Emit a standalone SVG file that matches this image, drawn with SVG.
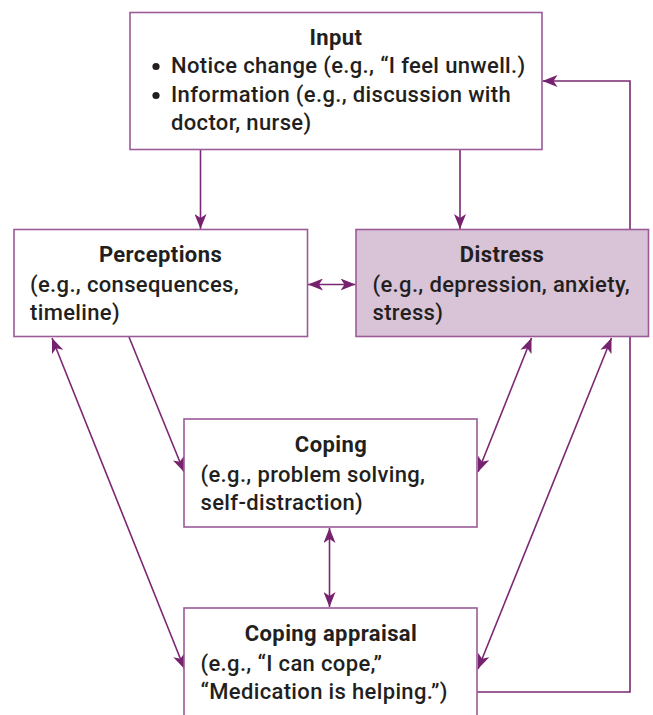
<svg xmlns="http://www.w3.org/2000/svg" width="653" height="715" viewBox="0 0 653 715">
<defs>
<marker id="ah" viewBox="0 0 15 12" refX="15" refY="6" markerWidth="15" markerHeight="12" markerUnits="userSpaceOnUse" orient="auto-start-reverse">
<path d="M0,0 L15,6 L0,12 L4,6 Z" fill="#76226e"/>
</marker>
</defs>
<style>
.box{fill:#ffffff;stroke:#9c5a98;stroke-width:1.6}
.dis{fill:#d8c4d6}
.c{fill:none;stroke:#7a2872;stroke-width:1.6}
.t{font-family:Roboto,"Liberation Sans",sans-serif;font-weight:700;font-size:22px;letter-spacing:0.4px;fill:#231f20;text-anchor:middle}
.b{font-family:Roboto,"Liberation Sans",sans-serif;font-weight:500;font-size:22px;letter-spacing:0.35px;fill:#231f20}
.dot{fill:#231f20}
</style>
<rect width="653" height="715" fill="#ffffff"/>
<g id="connectors">
<path class="c" d="M200.5,150 V229" marker-end="url(#ah)"/>
<path class="c" d="M460,150 V229" marker-end="url(#ah)"/>
<path class="c" d="M308,284.5 H355.5" marker-start="url(#ah)" marker-end="url(#ah)"/>
<path class="c" d="M129,337 L184,472" marker-end="url(#ah)"/>
<path class="c" d="M52,338 L184.5,669" marker-start="url(#ah)" marker-end="url(#ah)"/>
<path class="c" d="M531.5,338 L478,472" marker-start="url(#ah)" marker-end="url(#ah)"/>
<path class="c" d="M611.5,338 L478,669" marker-start="url(#ah)" marker-end="url(#ah)"/>
<path class="c" d="M329.5,528 V607" marker-start="url(#ah)" marker-end="url(#ah)"/>
<path class="c" d="M477,692 H630 V81 H542.5" marker-end="url(#ah)"/>
</g>
<g id="input">
<rect class="box" x="130" y="12.5" width="412" height="137"/>
<text class="t" x="336" y="45">Input</text>
<circle class="dot" cx="156" cy="66.5" r="3.6"/>
<text class="b" x="171" y="73">Notice change (e.g., “I feel unwell.)</text>
<circle class="dot" cx="156" cy="95.5" r="3.6"/>
<text class="b" x="171" y="102">Information (e.g., discussion with</text>
<text class="b" x="171" y="130">doctor, nurse)</text>
</g>
<g id="perceptions">
<rect class="box" x="14" y="229.5" width="293.5" height="107"/>
<text class="t" x="160.5" y="262">Perceptions</text>
<text class="b" x="30" y="291.5">(e.g., consequences,</text>
<text class="b" x="30" y="320">timeline)</text>
</g>
<g id="distress">
<rect class="box dis" x="356" y="229.5" width="292.5" height="107"/>
<text class="t" x="502" y="262">Distress</text>
<text class="b" x="372.5" y="291.5">(e.g., depression, anxiety,</text>
<text class="b" x="372.5" y="320">stress)</text>
</g>
<g id="coping">
<rect class="box" x="184" y="419" width="293" height="108"/>
<text class="t" x="331" y="451.5">Coping</text>
<text class="b" x="200.5" y="481.5">(e.g., problem solving,</text>
<text class="b" x="200.5" y="510">self-distraction)</text>
</g>
<g id="appraisal">
<rect class="box" x="184" y="608" width="293" height="125"/>
<text class="t" x="331" y="641">Coping appraisal</text>
<text class="b" x="200.5" y="670.5">(e.g., “I can cope,”</text>
<text class="b" x="200.5" y="698.5">“Medication is helping.”)</text>
</g>
</svg>
